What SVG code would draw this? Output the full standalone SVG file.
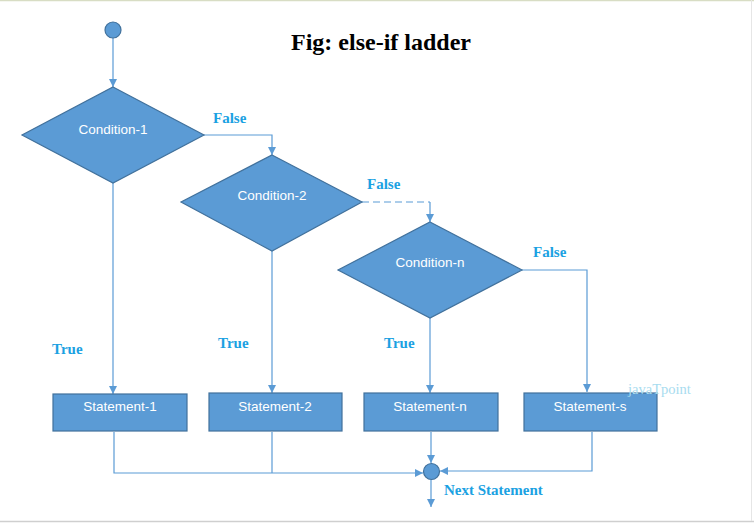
<svg xmlns="http://www.w3.org/2000/svg" width="754" height="524" viewBox="0 0 754 524">
<style>
.shape{fill:#5B9BD5;stroke:#41719C;stroke-width:1.2}
.nt{font-family:"Liberation Sans",Arial,sans-serif;font-size:13.5px;fill:#fff;text-anchor:middle}
.lbl{font-family:"Liberation Serif","Times New Roman",serif;font-weight:bold;font-size:15px;fill:#1BA1E2}
.ln{fill:none;stroke:#5B9BD5;stroke-width:1.2}
</style>
<defs>
<marker id="ah" markerWidth="8" markerHeight="8" refX="8" refY="4" orient="auto" markerUnits="userSpaceOnUse">
<path d="M0,0 L8,4 L0,8 Z" fill="#5B9BD5"/>
</marker>
</defs>
<rect width="754" height="524" fill="#fff"/>
<line x1="0" y1="0.5" x2="754" y2="0.5" stroke="#D8DDC4" stroke-width="1.5"/>
<line x1="0" y1="521.5" x2="754" y2="521.5" stroke="#CFCFCF" stroke-width="1.5"/>
<line x1="751.5" y1="0" x2="751.5" y2="521" stroke="#E6E6E6" stroke-width="1"/>
<text x="381" y="50" font-family="'Liberation Serif','Times New Roman',serif" font-weight="bold" font-size="24" text-anchor="middle" fill="#000">Fig: else-if ladder</text>
<g id="connectors">
<path class="ln" d="M113,38 V87" marker-end="url(#ah)"/>
<path class="ln" d="M204,135 H272 V155" marker-end="url(#ah)"/>
<path class="ln" d="M362,202 H430" stroke-dasharray="7,4"/>
<path class="ln" d="M430,202 V222" marker-end="url(#ah)"/>
<path class="ln" d="M522,270 H587 V392" marker-end="url(#ah)"/>
<path class="ln" d="M113,183 V394" marker-end="url(#ah)"/>
<path class="ln" d="M272,251 V393" marker-end="url(#ah)"/>
<path class="ln" d="M430,318 V393" marker-end="url(#ah)"/>
<path class="ln" d="M114,432 V473 H423" marker-end="url(#ah)"/>
<path class="ln" d="M272,432 V473"/>
<path class="ln" d="M431,432 V463" marker-end="url(#ah)"/>
<path class="ln" d="M592,432 V471 H440" marker-end="url(#ah)"/>
<path class="ln" d="M431,480 V507" marker-end="url(#ah)"/>
</g>
<g id="start"><circle class="shape" cx="113" cy="30" r="8"/></g>
<g id="cond1"><polygon class="shape" points="113,87 204,135 113,183 22,135"/><text class="nt" x="113" y="134">Condition-1</text></g>
<g id="cond2"><polygon class="shape" points="272,155 362,202 272,251 181,202"/><text class="nt" x="272" y="200">Condition-2</text></g>
<g id="condn"><polygon class="shape" points="430,222 522,270 430,318 338,270"/><text class="nt" x="430" y="267">Condition-n</text></g>
<g id="stmt1"><rect class="shape" x="53" y="394" width="134" height="37"/><text class="nt" x="120" y="411">Statement-1</text></g>
<g id="stmt2"><rect class="shape" x="209" y="393" width="133" height="38"/><text class="nt" x="275" y="411">Statement-2</text></g>
<g id="stmtn"><rect class="shape" x="364" y="393" width="134" height="38"/><text class="nt" x="430" y="411">Statement-n</text></g>
<g id="stmts"><rect class="shape" x="524" y="393" width="133" height="38"/><text class="nt" x="590" y="411">Statement-s</text></g>
<g id="join"><circle class="shape" cx="431.5" cy="471.5" r="8"/></g>
<g id="labels">
<text class="lbl" x="213" y="123">False</text>
<text class="lbl" x="367" y="189">False</text>
<text class="lbl" x="533" y="257">False</text>
<text class="lbl" x="52" y="354">True</text>
<text class="lbl" x="218" y="348">True</text>
<text class="lbl" x="384" y="348">True</text>
<text class="lbl" x="444" y="495" font-size="16.5">Next Statement</text>
<text x="628" y="394" font-family="'Liberation Serif','Times New Roman',serif" font-size="14.5" fill="#A8DCEF">javaTpoint</text>
</g>
</svg>
